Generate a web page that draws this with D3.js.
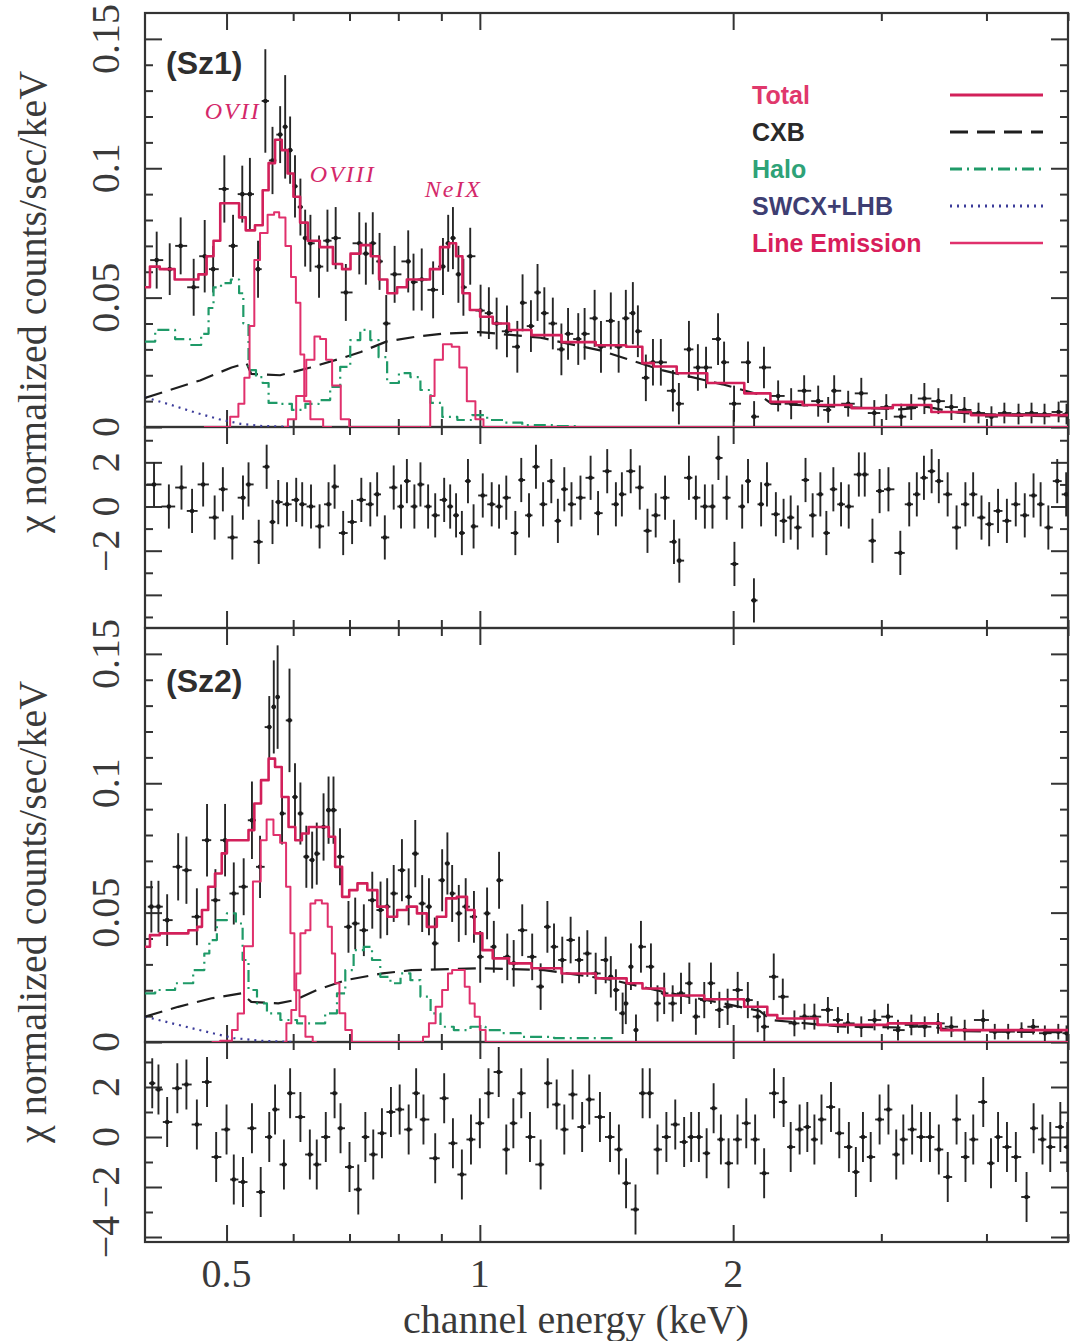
<!DOCTYPE html>
<html>
<head>
<meta charset="utf-8">
<script src="https://cdn.jsdelivr.net/npm/d3@7"></script>
<style>
  body { margin: 0; background: #fff; }
  svg { display: block; }
</style>
</head>
<body>
<svg id="chart"></svg>
<script>
// ---- Sz1 spectrum (keV, counts/s/keV, 1 sigma) ----
const sz1Energy = [
  0.413, 0.428, 0.441, 0.457, 0.471, 0.482, 0.497, 0.509, 0.522, 0.533,
  0.545, 0.556, 0.567, 0.579, 0.587, 0.595, 0.603, 0.612, 0.620, 0.629,
  0.644, 0.659, 0.674, 0.693, 0.719, 0.732, 0.746, 0.760, 0.774, 0.792,
  0.822, 0.834, 0.853, 0.880, 0.904, 0.917, 0.929, 0.943, 0.956, 0.974,
  1.002, 1.025, 1.047, 1.077, 1.108, 1.124, 1.150, 1.171, 1.193, 1.221,
  1.250, 1.273, 1.309, 1.332, 1.369, 1.393, 1.431, 1.462, 1.491, 1.520,
  1.541, 1.575, 1.606, 1.641, 1.696, 1.724, 1.772, 1.816, 1.857, 1.919,
  1.951, 2.005, 2.083, 2.118, 2.176, 2.262, 2.344, 2.429, 2.524, 2.594,
  2.637, 2.740, 2.840, 2.943, 3.041, 3.168, 3.256, 3.375, 3.507, 3.634,
  3.766, 3.914, 4.055, 4.201, 4.367, 4.525, 4.689, 4.873, 4.980
];
const sz1Rate = [
  0.0645, 0.061, 0.070, 0.054, 0.066, 0.061, 0.092, 0.070, 0.090, 0.090,
  0.061, 0.126, 0.103, 0.113, 0.116, 0.107, 0.093, 0.085, 0.073, 0.071,
  0.062, 0.072, 0.073, 0.052, 0.071, 0.067, 0.071, 0.064, 0.040, 0.059,
  0.064, 0.056, 0.057, 0.053, 0.062, 0.071, 0.073, 0.059, 0.054, 0.066,
  0.045, 0.044, 0.040, 0.037, 0.031, 0.048, 0.039, 0.052, 0.044, 0.040,
  0.030, 0.036, 0.034, 0.036, 0.042, 0.031, 0.041, 0.031, 0.042, 0.044,
  0.037, 0.019, 0.025, 0.025, 0.014, 0.009, 0.030, 0.023, 0.023, 0.034,
  0.025, 0.009, 0.025, 0.004, 0.023, 0.012, 0.009, 0.014, 0.010, 0.0066,
  0.014, 0.009, 0.013, 0.0054, 0.0077, 0.004, 0.0077, 0.011, 0.010, 0.0077,
  0.0066, 0.0054, 0.004, 0.0054, 0.005, 0.0054, 0.005, 0.0058, 0.005
];
const sz1Error = [
  0.011, 0.010, 0.011, 0.011, 0.014, 0.009, 0.013, 0.012, 0.011, 0.014,
  0.011, 0.020, 0.013, 0.011, 0.020, 0.013, 0.012, 0.011, 0.011, 0.011,
  0.012, 0.012, 0.012, 0.011, 0.012, 0.012, 0.012, 0.011, 0.011, 0.011,
  0.012, 0.011, 0.012, 0.011, 0.011, 0.011, 0.012, 0.011, 0.011, 0.011,
  0.010, 0.010, 0.010, 0.010, 0.010, 0.011, 0.010, 0.011, 0.010, 0.010,
  0.010, 0.010, 0.010, 0.010, 0.011, 0.010, 0.011, 0.010, 0.011, 0.012,
  0.010, 0.009, 0.009, 0.009, 0.008, 0.008, 0.011, 0.009, 0.008, 0.010,
  0.008, 0.007, 0.008, 0.006, 0.008, 0.006, 0.006, 0.006, 0.006, 0.005,
  0.006, 0.005, 0.006, 0.005, 0.005, 0.005, 0.005, 0.006, 0.005, 0.005,
  0.005, 0.004, 0.004, 0.004, 0.004, 0.004, 0.004, 0.004, 0.004
];

// ---- Sz1 residuals (chi) ----
const sz1ResEnergy = [
  0.410, 0.427, 0.442, 0.455, 0.469, 0.484, 0.495, 0.508, 0.523, 0.531,
  0.546, 0.558, 0.567, 0.576, 0.590, 0.605, 0.615, 0.630, 0.645, 0.661,
  0.672, 0.688, 0.705, 0.723, 0.741, 0.755, 0.771, 0.790, 0.806, 0.819,
  0.836, 0.850, 0.868, 0.885, 0.907, 0.922, 0.937, 0.952, 0.968, 0.983,
  1.008, 1.033, 1.054, 1.075, 1.102, 1.120, 1.144, 1.166, 1.189, 1.216,
  1.238, 1.260, 1.285, 1.317, 1.354, 1.382, 1.417, 1.451, 1.475, 1.511,
  1.549, 1.582, 1.618, 1.660, 1.701, 1.726, 1.772, 1.806, 1.851, 1.890,
  1.921, 1.965, 2.007, 2.050, 2.083, 2.117, 2.159, 2.194, 2.248, 2.296,
  2.341, 2.387, 2.438, 2.486, 2.539, 2.581, 2.631, 2.687, 2.744, 2.821,
  2.867, 2.928, 2.986, 3.059, 3.160, 3.238, 3.306, 3.371, 3.443, 3.511,
  3.597, 3.686, 3.776, 3.857, 3.946, 4.030, 4.129, 4.230, 4.334, 4.442,
  4.550, 4.639, 4.738, 4.855, 4.975
];
const sz1Chi = [
  1.0, 0, 0.86, -0.2, 1.0, -0.5, 0.78, -1.4, 0.4, 1.0,
  -1.6, 1.8, -0.7, 0.2, 0.1, 0.3, 0.1, 0, -0.9, 0.1,
  0.9, -1.2, -0.7, 0.3, 0.1, 0.55, -1.4, 0.86, 0, 1.15,
  0, 1.0, 0, -0.4, 0.3, 0, -0.4, -1.2, 1.15, -0.9,
  0.5, 0.1, 0, 0.4, -1.2, 1.2, -0.4, 1.8, 0.1, 1.15,
  -0.65, 0.78, 0.1, 0.4, 1.3, -0.3, 1.6, 0.1, 0.55, 1.6,
  0.86, -1.1, -0.4, 0.4, -1.6, -2.45, 1.3, 0.4, 0, 0,
  2.2, 0.4, -2.6, 0, 1.15, -4.25, 0.1, 1.0, -0.35, -0.65,
  -0.5, -0.95, 1.2, -0.4, 0.55, -1.2, 0.78, 0.1, 0, 1.45,
  1.45, -1.55, 0.7, 0.78, -2.1, 0.1, 0.55, 1.3, 1.6, 1.15,
  0.55, -0.95, 0.1, 0.55, -0.5, -0.8, -0.2, -0.65, 0.1, -0.4,
  0.5, 0.1, -0.95, 1.15, 0.55
];

// ---- Sz1 model components [keV, counts/s/keV] ----
const sz1Total = [
  [0.400, 0.054], [0.411, 0.062], [0.422, 0.061], [0.446, 0.057], [0.459, 0.057],
  [0.467, 0.059], [0.480, 0.066], [0.485, 0.072], [0.498, 0.0865], [0.514, 0.0865],
  [0.521, 0.081], [0.533, 0.076], [0.548, 0.078], [0.556, 0.0915], [0.566, 0.102],
  [0.576, 0.111], [0.587, 0.107], [0.595, 0.098], [0.606, 0.089], [0.617, 0.079],
  [0.632, 0.072], [0.659, 0.0695], [0.679, 0.063], [0.693, 0.061], [0.711, 0.067],
  [0.732, 0.0703], [0.752, 0.066], [0.766, 0.057], [0.787, 0.0517], [0.808, 0.054],
  [0.830, 0.057], [0.861, 0.057], [0.884, 0.061], [0.910, 0.0695], [0.929, 0.071],
  [0.945, 0.066], [0.962, 0.0517], [0.984, 0.0452], [1.018, 0.0426], [1.054, 0.040],
  [1.113, 0.0375], [1.192, 0.0355], [1.312, 0.0328], [1.437, 0.0316], [1.55, 0.031],
  [1.57, 0.0247], [1.65, 0.0234], [1.78, 0.0208], [1.95, 0.017], [2.18, 0.013],
  [2.25, 0.0097], [2.6, 0.0085], [2.94, 0.0073], [3.26, 0.0085], [3.63, 0.0058],
  [4.05, 0.0046], [5.0, 0.0046]
];
const sz1Cxb = [
  [0.400, 0.0112], [0.428, 0.0143], [0.465, 0.018], [0.507, 0.0230], [0.528, 0.0247],
  [0.535, 0.0205], [0.579, 0.0200], [0.629, 0.0230], [0.684, 0.0265], [0.722, 0.0290],
  [0.774, 0.0330], [0.836, 0.0348], [0.901, 0.0360], [1.000, 0.0367], [1.181, 0.0345],
  [1.394, 0.0295], [1.645, 0.022], [1.942, 0.0165], [2.15, 0.0125], [2.22, 0.0090],
  [2.68, 0.0078], [3.16, 0.0068], [3.4, 0.0078], [3.7, 0.0055], [4.4, 0.0043], [5.0, 0.0042]
];
const sz1Halo = [
  [0.400, 0.033], [0.423, 0.0375], [0.446, 0.034], [0.459, 0.0317], [0.474, 0.036],
  [0.478, 0.046], [0.487, 0.054], [0.498, 0.0556], [0.514, 0.057], [0.521, 0.0517],
  [0.526, 0.040], [0.536, 0.022], [0.548, 0.0193], [0.556, 0.017], [0.566, 0.0093],
  [0.587, 0.0089], [0.609, 0.0066], [0.632, 0.0089], [0.655, 0.0104], [0.673, 0.0155],
  [0.692, 0.0232], [0.711, 0.0336], [0.731, 0.0375], [0.751, 0.0336], [0.765, 0.027],
  [0.787, 0.017], [0.816, 0.0208], [0.838, 0.0193], [0.862, 0.0143], [0.886, 0.0093],
  [0.919, 0.0039], [0.962, 0.0027], [0.997, 0.0046], [1.044, 0.0027], [1.093, 0.0017],
  [1.154, 0.0007], [1.30, 0.0003]
];
const sz1Swcx = [
  [0.400, 0.0115], [0.430, 0.0085], [0.460, 0.0055], [0.490, 0.0030], [0.520, 0.0012],
  [0.550, 0.0004], [0.600, 0.0]
];
const sz1OVII = [
  [0.470, 0.0], [0.498, 0.0], [0.512, 0.004], [0.521, 0.009], [0.529, 0.019], [0.536, 0.039],
  [0.543, 0.0645], [0.553, 0.075], [0.566, 0.082], [0.573, 0.083], [0.582, 0.081],
  [0.593, 0.070], [0.600, 0.058], [0.609, 0.048], [0.615, 0.028], [0.622, 0.010],
  [0.636, 0.003], [0.667, 0.0]
];
const sz1OVIII = [
  [0.585, 0.0], [0.598, 0.003], [0.612, 0.012], [0.632, 0.026], [0.640, 0.035], [0.652, 0.034],
  [0.661, 0.026], [0.674, 0.016], [0.693, 0.003], [0.706, 0.0], [0.85, 0.0]
];
const sz1NeIX = [
  [0.850, 0.0], [0.870, 0.0], [0.876, 0.012], [0.891, 0.026], [0.917, 0.032], [0.935, 0.031],
  [0.956, 0.023], [0.974, 0.010], [1.002, 0.003], [1.018, 0.0], [5.0, 0.0]
];

// ---- Sz2 spectrum ----
const sz2Energy = [
  0.407, 0.415, 0.425, 0.438, 0.448, 0.461, 0.474, 0.485, 0.498, 0.510,
  0.524, 0.536, 0.548, 0.562, 0.569, 0.575, 0.582, 0.594, 0.603, 0.612,
  0.622, 0.632, 0.640, 0.652, 0.661, 0.670, 0.682, 0.698, 0.711, 0.728,
  0.745, 0.762, 0.776, 0.790, 0.808, 0.823, 0.838, 0.854, 0.870, 0.884,
  0.902, 0.915, 0.927, 0.944, 0.962, 0.984, 1.001, 1.020, 1.039, 1.054,
  1.078, 1.097, 1.123, 1.154, 1.181, 1.203, 1.225, 1.253, 1.282, 1.312,
  1.342, 1.373, 1.411, 1.431, 1.451, 1.478, 1.491, 1.512, 1.533, 1.554,
  1.597, 1.626, 1.656, 1.695, 1.734, 1.774, 1.806, 1.848, 1.882, 1.926,
  1.970, 2.025, 2.082, 2.139, 2.178, 2.235, 2.291, 2.365, 2.431, 2.498,
  2.592, 2.664, 2.738, 2.840, 2.945, 3.055, 3.140, 3.257, 3.378, 3.504,
  3.634, 3.769, 3.964, 4.092, 4.245, 4.403, 4.546, 4.693, 4.869, 4.980
];
const sz2Rate = [
  0.0523, 0.0523, 0.0471, 0.0677, 0.0664, 0.0484, 0.0780, 0.0548, 0.0780, 0.0574,
  0.0600, 0.0857, 0.0677, 0.1217, 0.1295, 0.1333, 0.0883, 0.1243, 0.0947, 0.0883,
  0.0716, 0.0703, 0.0728, 0.0831, 0.0896, 0.0896, 0.0716, 0.0445, 0.0458, 0.0432,
  0.0548, 0.0510, 0.0523, 0.0574, 0.0664, 0.0561, 0.0728, 0.0535, 0.0523, 0.0381,
  0.0625, 0.0690, 0.0574, 0.0497, 0.0523, 0.0484, 0.0329, 0.0497, 0.0368, 0.0625,
  0.0329, 0.0304, 0.0432, 0.0329, 0.0214, 0.0445, 0.0368, 0.0317, 0.0394, 0.0317,
  0.0342, 0.0265, 0.0317, 0.0252, 0.0201, 0.0111, 0.0149, 0.0291, 0.0046, 0.0368,
  0.0291, 0.0149, 0.0188, 0.0149, 0.0188, 0.0227, 0.0098, 0.0162, 0.0227, 0.0124,
  0.0136, 0.0201, 0.0162, 0.0098, 0.0059, 0.0252, 0.0175, 0.0072, 0.0098, 0.0098,
  0.0124, 0.0085, 0.0072, 0.0059, 0.0085, 0.0098, 0.0046, 0.0066, 0.0059, 0.0072,
  0.0059, 0.0046, 0.0085, 0.0040, 0.0040, 0.0046, 0.0059, 0.0034, 0.0040, 0.0034
];
const sz2Error = [
  0.010, 0.010, 0.010, 0.013, 0.013, 0.011, 0.014, 0.012, 0.014, 0.012,
  0.011, 0.015, 0.012, 0.012, 0.018, 0.020, 0.012, 0.020, 0.013, 0.012,
  0.012, 0.011, 0.012, 0.013, 0.013, 0.013, 0.011, 0.010, 0.010, 0.010,
  0.011, 0.011, 0.011, 0.011, 0.012, 0.011, 0.013, 0.011, 0.011, 0.010,
  0.012, 0.012, 0.011, 0.011, 0.011, 0.010, 0.010, 0.010, 0.010, 0.011,
  0.009, 0.009, 0.010, 0.009, 0.009, 0.010, 0.009, 0.009, 0.009, 0.009,
  0.009, 0.008, 0.009, 0.008, 0.008, 0.008, 0.008, 0.009, 0.006, 0.010,
  0.009, 0.007, 0.008, 0.007, 0.008, 0.008, 0.007, 0.007, 0.008, 0.007,
  0.007, 0.007, 0.007, 0.006, 0.006, 0.009, 0.007, 0.005, 0.005, 0.005,
  0.005, 0.005, 0.004, 0.004, 0.004, 0.005, 0.004, 0.004, 0.004, 0.004,
  0.004, 0.004, 0.004, 0.003, 0.003, 0.003, 0.003, 0.003, 0.003, 0.003
];

// ---- Sz2 residuals ----
const sz2ResEnergy = [
  0.408, 0.415, 0.425, 0.437, 0.448, 0.461, 0.474, 0.486, 0.500, 0.510,
  0.523, 0.536, 0.549, 0.562, 0.571, 0.585, 0.595, 0.612, 0.628, 0.640,
  0.656, 0.672, 0.683, 0.700, 0.717, 0.731, 0.747, 0.765, 0.784, 0.803,
  0.823, 0.840, 0.857, 0.885, 0.907, 0.929, 0.952, 0.976, 1.000, 1.024,
  1.053, 1.075, 1.096, 1.120, 1.147, 1.181, 1.204, 1.234, 1.260, 1.289,
  1.323, 1.349, 1.389, 1.428, 1.463, 1.492, 1.531, 1.561, 1.592, 1.626,
  1.666, 1.707, 1.749, 1.783, 1.821, 1.860, 1.896, 1.934, 1.975, 2.024,
  2.073, 2.124, 2.177, 2.237, 2.296, 2.341, 2.399, 2.450, 2.498, 2.547,
  2.614, 2.674, 2.745, 2.798, 2.853, 2.914, 2.986, 3.059, 3.125, 3.186,
  3.264, 3.345, 3.427, 3.511, 3.598, 3.686, 3.777, 3.858, 3.965, 4.050,
  4.129, 4.231, 4.335, 4.464, 4.551, 4.663, 4.763, 4.896, 4.990
];
const sz2Chi = [
  2.15, 1.9, 0.6, 1.95, 2.1, 0.5, 2.2, -0.8, 0.3, -1.7,
  -1.8, 0.35, -2.2, 0, 1.1, -1.1, 1.75, 0.8, -0.7, -1.1,
  0, 1.75, 0.35, -1.2, -2.1, 0, -0.7, 0.15, 1.0, 1.1,
  0.3, 1.75, 0.7, -0.85, 1.55, -0.25, -1.5, -0.1, 0.55, 1.75,
  2.6, -0.5, 0.55, 1.75, 0, -1.1, 2.15, 1.3, 0.3, 1.7,
  0.4, 1.5, 0.8, 0, -0.5, -1.85, -2.9, 1.75, 1.75, -0.5,
  0, 0.5, -0.2, 0, 0, -0.65, 1.15, -0.1, -1.05, -0.1,
  0.55, -0.1, -1.45, 1.75, 1.4, -0.4, 0.3, 0.4, -0.1, 0.7,
  1.2, 0.15, -0.4, -1.4, 0, -0.8, 0.7, 1.1, -0.7, -0.1,
  0.3, 0, 0, -0.5, -1.6, 0.7, -0.8, -0.1, 1.4, -1.05,
  0, -0.4, -0.8, -2.4, 0.35, -0.1, -0.4, 0.4, -0.4
];

// ---- Sz2 model components ----
const sz2Total = [
  [0.400, 0.0368], [0.411, 0.0413], [0.422, 0.042], [0.442, 0.042], [0.459, 0.0432],
  [0.464, 0.0445], [0.471, 0.051], [0.480, 0.060], [0.489, 0.0651], [0.498, 0.0729],
  [0.503, 0.078], [0.526, 0.078], [0.536, 0.0819], [0.543, 0.0922], [0.556, 0.1012],
  [0.566, 0.1095], [0.576, 0.1063], [0.587, 0.0947], [0.598, 0.0831], [0.609, 0.078],
  [0.620, 0.0806], [0.632, 0.0831], [0.656, 0.0831], [0.667, 0.0793], [0.679, 0.0677],
  [0.693, 0.0561], [0.706, 0.0587], [0.725, 0.0613], [0.745, 0.0587], [0.766, 0.0523],
  [0.787, 0.0484], [0.808, 0.051], [0.830, 0.0523], [0.854, 0.0497], [0.876, 0.0445],
  [0.902, 0.0484], [0.922, 0.0555], [0.956, 0.0561], [0.975, 0.051], [0.996, 0.042],
  [1.018, 0.0355], [1.054, 0.0323], [1.113, 0.0304], [1.192, 0.0285], [1.312, 0.0265],
  [1.437, 0.0246], [1.554, 0.0227], [1.567, 0.0207], [1.75, 0.018], [1.951, 0.0165],
  [2.178, 0.0136], [2.214, 0.0104], [2.30, 0.0091], [2.76, 0.0066], [3.378, 0.0072],
  [3.69, 0.0046], [5.0, 0.0046]
];
const sz2Cxb = [
  [0.400, 0.0098], [0.438, 0.0136], [0.480, 0.0169], [0.521, 0.0188], [0.535, 0.0155],
  [0.576, 0.0149], [0.603, 0.0162], [0.640, 0.0201], [0.693, 0.0239], [0.766, 0.0265],
  [0.830, 0.0278], [0.996, 0.0285], [1.192, 0.0278], [1.437, 0.0240], [1.645, 0.0195],
  [1.942, 0.0150], [2.15, 0.0120], [2.22, 0.0085], [2.68, 0.0060], [3.16, 0.0056],
  [3.4, 0.0062], [3.7, 0.0042], [4.4, 0.0039], [5.0, 0.0038]
];
const sz2Halo = [
  [0.400, 0.0188], [0.423, 0.0201], [0.446, 0.0227], [0.467, 0.0278], [0.474, 0.0342],
  [0.480, 0.0394], [0.494, 0.0471], [0.507, 0.0497], [0.519, 0.0458], [0.526, 0.0317],
  [0.536, 0.0201], [0.551, 0.0149], [0.566, 0.0111], [0.593, 0.0085], [0.620, 0.0072],
  [0.643, 0.0072], [0.667, 0.0111], [0.686, 0.0188], [0.698, 0.0278], [0.718, 0.0355],
  [0.738, 0.0368], [0.751, 0.0317], [0.772, 0.0252], [0.794, 0.0227], [0.816, 0.0265],
  [0.838, 0.0239], [0.862, 0.0175], [0.886, 0.0111], [0.910, 0.0059], [0.953, 0.0046],
  [0.997, 0.0059], [1.035, 0.0046], [1.093, 0.0034], [1.144, 0.0020], [1.312, 0.0015],
  [1.438, 0.0015]
];
const sz2Swcx = [
  [0.400, 0.0098], [0.446, 0.0060], [0.480, 0.0035], [0.510, 0.0015], [0.550, 0.0005],
  [0.600, 0.0]
];
const sz2OVII = [
  [0.480, 0.0], [0.503, 0.0005], [0.512, 0.0046], [0.519, 0.011], [0.530, 0.037],
  [0.545, 0.062], [0.553, 0.078], [0.563, 0.086], [0.574, 0.080], [0.584, 0.077],
  [0.593, 0.060], [0.598, 0.042], [0.606, 0.020], [0.615, 0.010], [0.626, 0.002],
  [0.640, 0.0]
];
const sz2OVIII = [
  [0.585, 0.0], [0.593, 0.0072], [0.601, 0.0124], [0.609, 0.0265], [0.615, 0.042],
  [0.626, 0.0432], [0.632, 0.0535], [0.643, 0.0548], [0.655, 0.0535], [0.664, 0.0445],
  [0.670, 0.0342], [0.676, 0.0227], [0.686, 0.0111], [0.698, 0.0046], [0.711, 0.0],
  [0.85, 0.0]
];
const sz2NeIX = [
  [0.850, 0.0], [0.862, 0.002], [0.878, 0.0072], [0.894, 0.0136], [0.910, 0.0201],
  [0.923, 0.0265], [0.931, 0.0278], [0.953, 0.0278], [0.966, 0.0214], [0.979, 0.0149],
  [0.993, 0.0098], [1.007, 0.0046], [1.025, 0.0], [5.0, 0.0]
];

// ---- labels and ticks ----
const xMajorTicks = [0.5, 1, 2];
const xMinorTicks = [0.6, 0.7, 0.8, 0.9, 3, 4, 5];
const rateTicks = [0, 0.05, 0.1, 0.15];
const lineNames = ["OVII", "OVIII", "NeIX"];
const lineLabelEnergy = [0.471, 0.628, 0.860];
const lineLabelRate = [0.119, 0.0947, 0.0889];
const legendLabels = ["Total", "CXB", "Halo", "SWCX+LHB", "Line Emission"];

// ---------------------------------------------------------------
const W = 1072, H = 1341;
const plotLeft = 145, plotRight = 1068;
const serif = "'Liberation Serif', 'Times New Roman', serif";
const sans = "'Liberation Sans', Arial, sans-serif";
const axisColor = "#333";
const textColor = "#3a3a3a";

const styles = {
  total: { color: "#d2205a", width: 2.6, dash: null },
  cxb:   { color: "#1e1e1e", width: 2.2, dash: "18,9" },
  halo:  { color: "#1f9a68", width: 2.2, dash: "12,5,2,5" },
  swcx:  { color: "#3c3c9a", width: 2.2, dash: "2,5" },
  line:  { color: "#e0306c", width: 2.0, dash: null }
};
const legendStyle = [
  { text: "#e0386c", key: "total" },
  { text: "#2a2a2a", key: "cxb" },
  { text: "#2ea277", key: "halo" },
  { text: "#3e3e72", key: "swcx" },
  { text: "#d81e5b", key: "line" }
];

const x = d3.scaleLog().domain([0.4, 5.0]).range([plotLeft, plotRight]);

const svg = d3.select("#chart")
    .attr("width", W)
    .attr("height", H)
    .attr("viewBox", [0, 0, W, H]);

svg.append("rect").attr("width", W).attr("height", H).attr("fill", "#fff");

const panels = [
  { name: "(Sz1)", top: 13, split: 427, bottom: 628, resDomain: [-5.5, 3.6], resTicks: [2, 0, -2],
    energy: sz1Energy, rate: sz1Rate, err: sz1Error, resEnergy: sz1ResEnergy, chi: sz1Chi,
    total: sz1Total, cxb: sz1Cxb, halo: sz1Halo, swcx: sz1Swcx, lines: [sz1OVII, sz1OVIII, sz1NeIX],
    titleY: 302, nameY: 74, labels: true, legend: true },
  { name: "(Sz2)", top: 628, split: 1042, bottom: 1242, resDomain: [-4.2, 3.8], resTicks: [2, 0, -2, -4],
    energy: sz2Energy, rate: sz2Rate, err: sz2Error, resEnergy: sz2ResEnergy, chi: sz2Chi,
    total: sz2Total, cxb: sz2Cxb, halo: sz2Halo, swcx: sz2Swcx, lines: [sz2OVII, sz2OVIII, sz2NeIX],
    titleY: 912, nameY: 692, labels: false, legend: false }
];

function binEdges(es) {
  const px = es.map(d => x(d));
  return px.map((p, i) => {
    const lo = i > 0 ? (px[i - 1] + p) / 2 : p - (px[i + 1] - p) / 2;
    const hi = i < px.length - 1 ? (p + px[i + 1]) / 2 : p + (p - px[i - 1]) / 2;
    return [lo, hi];
  });
}

function fmt(v) {
  return v < 0 ? "\u2212" + Math.abs(v) : String(v);
}

function drawFrame(g, y, yTop, yBottom, majors, minors, labelVals, id) {
  g.append("clipPath").attr("id", id)
    .append("rect")
      .attr("x", plotLeft).attr("y", yTop)
      .attr("width", plotRight - plotLeft).attr("height", yBottom - yTop);

  const ax = g.append("g").attr("class", "ticks");
  const styleAxis = s => {
    s.select(".domain").remove();
    s.selectAll(".tick line").attr("stroke", axisColor).attr("stroke-width", 2);
  };
  // x ticks, pointing inward from top and bottom
  ax.append("g").attr("transform", `translate(0,${yTop})`)
    .call(d3.axisBottom(x).tickValues(xMajorTicks).tickSize(17).tickFormat("")).call(styleAxis);
  ax.append("g").attr("transform", `translate(0,${yTop})`)
    .call(d3.axisBottom(x).tickValues(xMinorTicks).tickSize(8).tickFormat("")).call(styleAxis);
  ax.append("g").attr("transform", `translate(0,${yBottom})`)
    .call(d3.axisTop(x).tickValues(xMajorTicks).tickSize(17).tickFormat("")).call(styleAxis);
  ax.append("g").attr("transform", `translate(0,${yBottom})`)
    .call(d3.axisTop(x).tickValues(xMinorTicks).tickSize(8).tickFormat("")).call(styleAxis);
  // y ticks, pointing inward from left and right
  ax.append("g").attr("transform", `translate(${plotLeft},0)`)
    .call(d3.axisRight(y).tickValues(majors).tickSize(17).tickFormat("")).call(styleAxis);
  ax.append("g").attr("transform", `translate(${plotLeft},0)`)
    .call(d3.axisRight(y).tickValues(minors).tickSize(8).tickFormat("")).call(styleAxis);
  ax.append("g").attr("transform", `translate(${plotRight},0)`)
    .call(d3.axisLeft(y).tickValues(majors).tickSize(17).tickFormat("")).call(styleAxis);
  ax.append("g").attr("transform", `translate(${plotRight},0)`)
    .call(d3.axisLeft(y).tickValues(minors).tickSize(8).tickFormat("")).call(styleAxis);

  g.append("rect")
    .attr("x", plotLeft).attr("y", yTop)
    .attr("width", plotRight - plotLeft).attr("height", yBottom - yTop)
    .attr("fill", "none").attr("stroke", axisColor).attr("stroke-width", 2.2);

  g.selectAll(null)
    .data(labelVals)
    .join("text")
      .attr("transform", d => `translate(119,${y(d)}) rotate(-90)`)
      .attr("text-anchor", "middle")
      .attr("font-family", serif)
      .attr("font-size", 40)
      .attr("fill", textColor)
      .text(d => d === 0 ? "0" : fmt(d));
}

function drawPoints(g, es, ys, errs, y, clipId) {
  const ed = binEdges(es);
  const idx = d3.range(es.length);
  const pg = g.append("g")
      .attr("clip-path", `url(#${clipId})`)
      .attr("stroke", "#262626")
      .attr("stroke-width", 1.9);
  pg.selectAll(".vbar").data(idx).join("line")
      .attr("class", "vbar")
      .attr("x1", i => x(es[i])).attr("x2", i => x(es[i]))
      .attr("y1", i => y(ys[i] - errs[i])).attr("y2", i => y(ys[i] + errs[i]));
  pg.selectAll(".hbar").data(idx).join("line")
      .attr("class", "hbar")
      .attr("x1", i => ed[i][0]).attr("x2", i => ed[i][1])
      .attr("y1", i => y(ys[i])).attr("y2", i => y(ys[i]));
  pg.selectAll(".dot").data(idx).join("circle")
      .attr("class", "dot")
      .attr("cx", i => x(es[i])).attr("cy", i => y(ys[i]))
      .attr("r", 2.3).attr("fill", "#1a1a1a").attr("stroke", "none");
}

function drawModel(g, pts, y, st, curve, clipId) {
  const line = d3.line().x(d => x(d[0])).y(d => y(d[1])).curve(curve);
  g.append("path")
    .attr("clip-path", `url(#${clipId})`)
    .attr("d", line(pts))
    .attr("fill", "none")
    .attr("stroke", st.color)
    .attr("stroke-width", st.width)
    .attr("stroke-dasharray", st.dash)
    .attr("stroke-linejoin", "round");
}

panels.forEach((p, k) => {
  const g = svg.append("g").attr("class", `panel-${k}`);

  const ySpec = d3.scaleLinear().domain([0, 0.16]).range([p.split, p.top]);
  const yRes = d3.scaleLinear().domain(p.resDomain).range([p.bottom, p.split]);

  const specMinor = d3.range(0.01, 0.16, 0.01).filter(v => Math.abs(v * 20 - Math.round(v * 20)) > 1e-6);
  const resInts = d3.range(Math.ceil(p.resDomain[0]), Math.floor(p.resDomain[1]) + 1);
  const resMajor = resInts.filter(v => v % 2 === 0);
  const resMinor = resInts.filter(v => v % 2 !== 0);

  drawFrame(g, ySpec, p.top, p.split, rateTicks, specMinor, rateTicks, `clip-spec-${k}`);
  drawFrame(g, yRes, p.split, p.bottom, resMajor, resMinor, p.resTicks, `clip-res-${k}`);

  // spectrum
  drawPoints(g, p.energy, p.rate, p.err, ySpec, `clip-spec-${k}`);
  drawModel(g, p.swcx, ySpec, styles.swcx, d3.curveLinear, `clip-spec-${k}`);
  drawModel(g, p.cxb, ySpec, styles.cxb, d3.curveLinear, `clip-spec-${k}`);
  drawModel(g, p.halo, ySpec, styles.halo, d3.curveStep, `clip-spec-${k}`);
  p.lines.forEach(l => drawModel(g, l, ySpec, styles.line, d3.curveStep, `clip-spec-${k}`));
  drawModel(g, p.total, ySpec, styles.total, d3.curveStep, `clip-spec-${k}`);

  // residuals: chi with +-1 bars
  drawPoints(g, p.resEnergy, p.chi, p.chi.map(() => 1), yRes, `clip-res-${k}`);

  // panel name
  g.append("text")
    .attr("x", 166).attr("y", p.nameY)
    .attr("font-family", sans).attr("font-weight", "bold")
    .attr("font-size", 32).attr("fill", "#2e2e2e")
    .text(p.name);

  // y title
  g.append("text")
    .attr("transform", `translate(46,${p.titleY}) rotate(-90)`)
    .attr("text-anchor", "middle")
    .attr("font-family", serif).attr("font-size", 40).attr("fill", textColor)
    .text("\u03C7 normalized counts/sec/keV");

  if (p.labels) {
    g.selectAll(".line-label")
      .data(lineNames)
      .join("text")
        .attr("class", "line-label")
        .attr("x", (d, i) => x(lineLabelEnergy[i]))
        .attr("y", (d, i) => ySpec(lineLabelRate[i]))
        .attr("font-family", serif).attr("font-style", "italic")
        .attr("font-size", 24).attr("letter-spacing", 2)
        .attr("fill", "#d4286a")
        .text(d => d);
  }

  if (p.legend) {
    const lg = g.append("g").attr("class", "legend");
    legendLabels.forEach((lab, i) => {
      const base = 104 + i * 37;
      const st = styles[legendStyle[i].key];
      lg.append("text")
        .attr("x", 752).attr("y", base)
        .attr("font-family", sans).attr("font-weight", "bold").attr("font-size", 25)
        .attr("fill", legendStyle[i].text)
        .text(lab);
      lg.append("line")
        .attr("x1", 950).attr("x2", 1043)
        .attr("y1", base - 9).attr("y2", base - 9)
        .attr("stroke", st.color)
        .attr("stroke-width", legendStyle[i].key === "total" ? 3.2 : st.width + 0.6)
        .attr("stroke-dasharray", st.dash);
    });
  }
});

// x tick labels and title along the bottom
const bottomY = panels[1].bottom;
svg.append("g").selectAll("text")
  .data(xMajorTicks)
  .join("text")
    .attr("x", d => x(d))
    .attr("y", bottomY + 45)
    .attr("text-anchor", "middle")
    .attr("font-family", serif).attr("font-size", 40).attr("fill", textColor)
    .text(d => d);

svg.append("text")
  .attr("x", 576).attr("y", 1333)
  .attr("text-anchor", "middle")
  .attr("font-family", serif).attr("font-size", 40).attr("fill", textColor)
  .text("channel energy (keV)");
</script>
</body>
</html>
